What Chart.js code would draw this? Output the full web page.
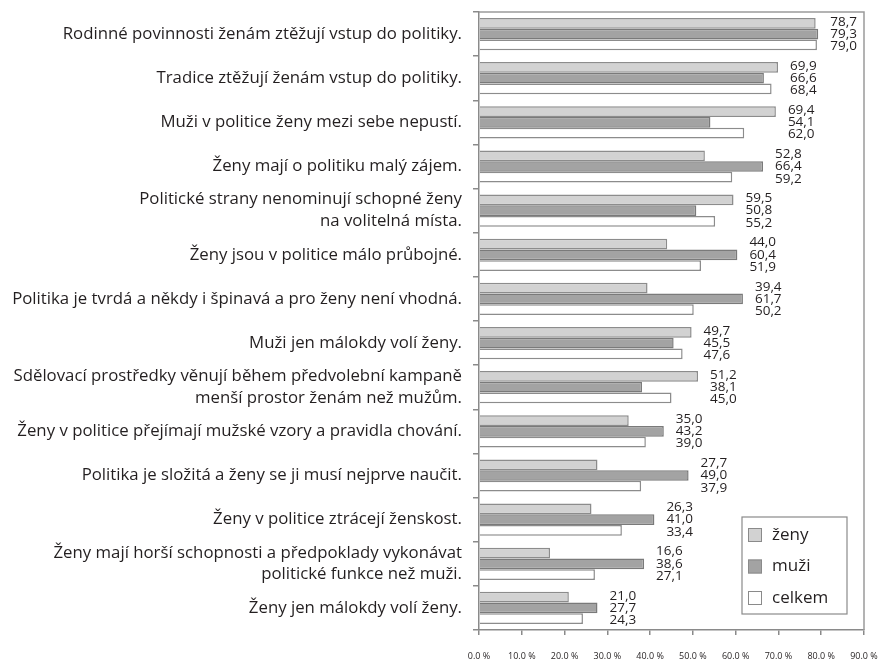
<!DOCTYPE html>
<html>
<head>
<meta charset="utf-8">
<script src="https://cdn.jsdelivr.net/npm/chart.js@4"></script>
<style>
  html, body { margin: 0; padding: 0; background: #fff; }
  #wrap { width: 883px; height: 661px; }
</style>
</head>
<body>
<div id="wrap"><canvas id="myChart" width="883" height="661"></canvas></div>
<script>
const categories = [
    'Rodinné povinnosti ženám ztěžují vstup do politiky.',
    'Tradice ztěžují ženám vstup do politiky.',
    'Muži v politice ženy mezi sebe nepustí.',
    'Ženy mají o politiku malý zájem.',
    ['Politické strany nenominují schopné ženy', 'na volitelná místa.'],
    'Ženy jsou v politice málo průbojné.',
    'Politika je tvrdá a někdy i špinavá a pro ženy není vhodná.',
    'Muži jen málokdy volí ženy.',
    ['Sdělovací prostředky věnují během předvolební kampaně', 'menší prostor ženám než mužům.'],
    'Ženy v politice přejímají mužské vzory a pravidla chování.',
    'Politika je složitá a ženy se ji musí nejprve naučit.',
    'Ženy v politice ztrácejí ženskost.',
    ['Ženy mají horší schopnosti a předpoklady vykonávat', 'politické funkce než muži.'],
    'Ženy jen málokdy volí ženy.'
];

const zeny   = [78.7, 69.9, 69.4, 52.8, 59.5, 44.0, 39.4, 49.7, 51.2, 35.0, 27.7, 26.3, 16.6, 21.0];
const muzi   = [79.3, 66.6, 54.1, 66.4, 50.8, 60.4, 61.7, 45.5, 38.1, 43.2, 49.0, 41.0, 38.6, 27.7];
const celkem = [79.0, 68.4, 62.0, 59.2, 55.2, 51.9, 50.2, 47.6, 45.0, 39.0, 37.9, 33.4, 27.1, 24.3];

const seriesNames = ['ženy', 'muži', 'celkem'];
const xTicks = [0, 10, 20, 30, 40, 50, 60, 70, 80, 90];

const FONT = '"Open Sans", "Noto Sans", sans-serif';
const TEXT = '#231f20';

// popisky hodnot + rámeček + legenda
const extras = {
    id: 'extras',
    afterDatasetsDraw(chart) {
        const ctx = chart.ctx;
        const area = chart.chartArea;
        const x = chart.scales.x;
        ctx.save();
        ctx.font = '13.5px ' + FONT;
        ctx.fillStyle = TEXT;
        ctx.textAlign = 'left';
        ctx.textBaseline = 'middle';
        categories.forEach((c, i) => {
            const vals = chart.data.datasets.map(d => d.data[i]);
            const lx = x.getPixelForValue(Math.max(...vals)) + 12;
            chart.data.datasets.forEach((d, di) => {
                const bar = chart.getDatasetMeta(di).data[i];
                ctx.fillText(d.data[i].toFixed(1).replace('.', ','), lx, bar.y + (di - 1) * 1.5);
            });
        });

        // rámeček
        ctx.strokeStyle = '#9a9a9a';
        ctx.lineWidth = 1.5;
        ctx.beginPath();
        ctx.moveTo(area.left, area.top);
        ctx.lineTo(area.right, area.top);
        ctx.lineTo(area.right, area.bottom);
        ctx.stroke();

        // legenda
        const lx0 = 742, ly0 = 517, lw = 105, lh = 97;
        ctx.fillStyle = '#fff';
        ctx.fillRect(lx0, ly0, lw, lh);
        ctx.strokeStyle = '#8a8a8a';
        ctx.lineWidth = 1.2;
        ctx.strokeRect(lx0, ly0, lw, lh);
        ctx.font = '17px ' + FONT;
        chart.data.datasets.forEach((d, di) => {
            const cy = 535 + di * 31.5;
            ctx.fillStyle = d.backgroundColor;
            ctx.fillRect(748, cy - 7, 14, 14);
            ctx.strokeStyle = '#8a8a8a';
            ctx.lineWidth = 1;
            ctx.strokeRect(748.5, cy - 6.5, 13, 13);
            ctx.fillStyle = TEXT;
            ctx.textBaseline = 'middle';
            ctx.fillText(d.label, 772, cy);
        });
        ctx.restore();
    }
};

const ctx = document.getElementById('myChart').getContext('2d');
const myChart = new Chart(ctx, {
    type: 'bar',
    data: {
        labels: categories,
        datasets: [
            { label: seriesNames[0], data: zeny, backgroundColor: '#d2d2d2', borderColor: '#8c8c8c', borderWidth: 1.5 },
            { label: seriesNames[1], data: muzi, backgroundColor: '#a3a3a3', borderColor: '#7a7a7a', borderWidth: 1.5 },
            { label: seriesNames[2], data: celkem, backgroundColor: '#ffffff', borderColor: '#8c8c8c', borderWidth: 1.5 }
        ]
    },
    options: {
        indexAxis: 'y',
        responsive: false,
        animation: false,
        layout: { padding: { top: 12, right: 19, left: 0, bottom: 0 } },
        datasets: { bar: { categoryPercentage: 0.73, barPercentage: 1 } },
        plugins: {
            legend: { display: false },
            tooltip: { enabled: false }
        },
        scales: {
            x: {
                min: 0,
                max: 90,
                afterFit: s => { s.height = 31; s.paddingLeft = 0; s.paddingRight = 0; },
                afterBuildTicks: s => { s.ticks = xTicks.map(v => ({ value: v })); },
                grid: { drawOnChartArea: false, tickLength: 5, color: '#8a8a8a', lineWidth: 1.5 },
                border: { color: '#8a8a8a', width: 1.5 },
                ticks: {
                    padding: 16,
                    color: TEXT,
                    font: { size: 9, family: FONT },
                    maxRotation: 0,
                    autoSkip: false,
                    callback: v => v.toFixed(1) + ' %'
                }
            },
            y: {
                afterFit: s => { s.width = 479; s.paddingTop = 0; s.paddingBottom = 0; },
                grid: { drawOnChartArea: false, tickLength: 6, color: '#8a8a8a', lineWidth: 1.5 },
                border: { color: '#8a8a8a', width: 1.5 },
                ticks: {
                    padding: 11,
                    autoSkip: false,
                    color: TEXT,
                    font: { size: 16.8, family: FONT, lineHeight: 1.3 }
                }
            }
        }
    },
    plugins: [extras]
});
</script>
</body>
</html>
